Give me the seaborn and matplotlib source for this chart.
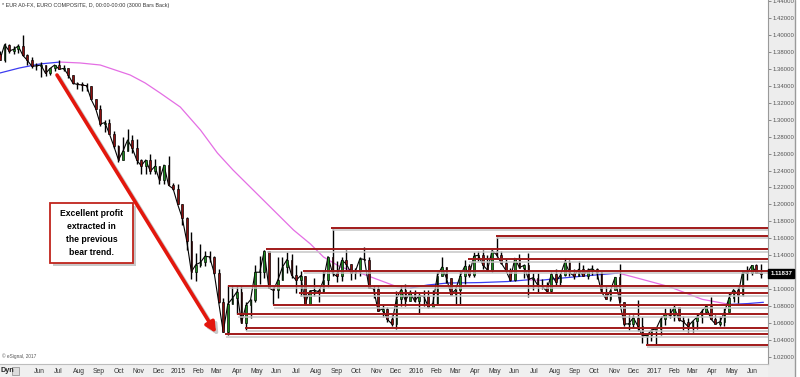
import numpy as np
import pandas as pd
import matplotlib
matplotlib.use("Agg")
import matplotlib.pyplot as plt
import matplotlib.dates as mdates
import matplotlib.transforms as mtransforms
from matplotlib.patches import Rectangle, FancyArrowPatch
import seaborn as sns

# ---------------- data (weekly bars) ----------------
first_week = "2014-04-04"
first_open = 1.3770

high_2014 = [1.3810, 1.3905, 1.3890, 1.3870, 1.3890, 1.3995, 1.3775, 1.3735, 1.3670, 1.3675,
             1.3620, 1.3615, 1.3650, 1.3700, 1.3645, 1.3615, 1.3530, 1.3445, 1.3440, 1.3435,
             1.3390, 1.3245, 1.3170, 1.2995, 1.3010, 1.2870, 1.2705, 1.2790, 1.2885, 1.2815,
             1.2770, 1.2540, 1.2505, 1.2600, 1.2530, 1.2455, 1.2450, 1.2570, 1.2255]
low_2014 = [1.3705, 1.3675, 1.3790, 1.3780, 1.3790, 1.3755, 1.3650, 1.3615, 1.3585, 1.3503,
            1.3520, 1.3525, 1.3575, 1.3595, 1.3575, 1.3490, 1.3425, 1.3365, 1.3335, 1.3335,
            1.3240, 1.3130, 1.2920, 1.2860, 1.2835, 1.2665, 1.2500, 1.2560, 1.2625, 1.2610,
            1.2475, 1.2360, 1.2360, 1.2355, 1.2360, 1.2245, 1.2245, 1.2225, 1.2165]
close_2014 = [1.3705, 1.3885, 1.3810, 1.3830, 1.3870, 1.3760, 1.3700, 1.3630, 1.3635, 1.3645,
              1.3545, 1.3605, 1.3645, 1.3595, 1.3605, 1.3525, 1.3430, 1.3415, 1.3410, 1.3400,
              1.3240, 1.3130, 1.2950, 1.2965, 1.2835, 1.2685, 1.2525, 1.2630, 1.2760, 1.2670,
              1.2525, 1.2455, 1.2525, 1.2390, 1.2450, 1.2285, 1.2465, 1.2225, 1.2185]

high_2015 = [1.2245, 1.2000, 1.1850, 1.1680, 1.1425, 1.1535, 1.1450, 1.1450, 1.1390, 1.1240,
             1.0890, 1.1045, 1.1050, 1.1035, 1.1035, 1.0850, 1.0880, 1.1290, 1.1390, 1.1465,
             1.1445, 1.1030, 1.1380, 1.1385, 1.1435, 1.1410, 1.1280, 1.1210, 1.1130, 1.0985,
             1.1130, 1.1000, 1.1215, 1.1385, 1.1715, 1.1330, 1.1385, 1.1460, 1.1295, 1.1245,
             1.1385, 1.1495, 1.1380, 1.1055, 1.1045, 1.0820, 1.0790, 1.0690, 1.0980, 1.1045,
             1.1060, 1.0990]
low_2015 = [1.2000, 1.1755, 1.1460, 1.1115, 1.1100, 1.1260, 1.1270, 1.1315, 1.1175, 1.0840,
            1.0490, 1.0460, 1.0830, 1.0710, 1.0600, 1.0520, 1.0660, 1.0850, 1.1060, 1.1135,
            1.1050, 1.0820, 1.0890, 1.1130, 1.1190, 1.1135, 1.0955, 1.0915, 1.0810, 1.0810,
            1.0915, 1.0850, 1.0950, 1.1020, 1.1155, 1.1085, 1.1100, 1.1225, 1.1105, 1.1120,
            1.1155, 1.1340, 1.1010, 1.0895, 1.0740, 1.0675, 1.0615, 1.0565, 1.0525, 1.0800,
            1.0805, 1.0855]
close_2015 = [1.2000, 1.1840, 1.1565, 1.1205, 1.1290, 1.1315, 1.1390, 1.1380, 1.1195, 1.0845,
              1.0495, 1.0825, 1.0890, 1.0970, 1.0600, 1.0810, 1.0875, 1.1200, 1.1200, 1.1450,
              1.1015, 1.0985, 1.1110, 1.1260, 1.1350, 1.1165, 1.1105, 1.1160, 1.0830, 1.0980,
              1.0985, 1.0970, 1.1105, 1.1385, 1.1185, 1.1150, 1.1340, 1.1300, 1.1195, 1.1210,
              1.1360, 1.1350, 1.1015, 1.1005, 1.0740, 1.0770, 1.0645, 1.0590, 1.0885, 1.0990,
              1.0865, 1.0965]

high_2016 = [1.0990, 1.0970, 1.0985, 1.0990, 1.0985, 1.1200, 1.1375, 1.1215, 1.1065, 1.1000,
             1.1215, 1.1340, 1.1300, 1.1440, 1.1455, 1.1465, 1.1400, 1.1460, 1.1615, 1.1445,
             1.1360, 1.1245, 1.1370, 1.1415, 1.1300, 1.1425, 1.1185, 1.1185, 1.1120, 1.1085,
             1.1200, 1.1235, 1.1185, 1.1365, 1.1340, 1.1240, 1.1330, 1.1285, 1.1255, 1.1285,
             1.1245, 1.1200, 1.1040, 1.0990, 1.1145, 1.1300, 1.0850, 1.0690, 1.0690, 1.0870,
             1.0670, 1.0475, 1.0500]
low_2016 = [1.0850, 1.0710, 1.0805, 1.0780, 1.0810, 1.0810, 1.1150, 1.1070, 1.0935, 1.0825,
            1.0820, 1.1060, 1.1145, 1.1140, 1.1330, 1.1235, 1.1215, 1.1200, 1.1380, 1.1300,
            1.1200, 1.1100, 1.1100, 1.1290, 1.1130, 1.0910, 1.0990, 1.0950, 1.1000, 1.0950,
            1.0950, 1.1045, 1.1040, 1.1150, 1.1150, 1.1125, 1.1150, 1.1155, 1.1120, 1.1165,
            1.1120, 1.0975, 1.0880, 1.0860, 1.0985, 1.0850, 1.0570, 1.0520, 1.0550, 1.0505,
            1.0365, 1.0352, 1.0390]
close_2016 = [1.0860, 1.0925, 1.0915, 1.0795, 1.0830, 1.1160, 1.1260, 1.1130, 1.0935, 1.0995,
              1.1155, 1.1270, 1.1165, 1.1390, 1.1400, 1.1285, 1.1225, 1.1455, 1.1405, 1.1310,
              1.1225, 1.1105, 1.1365, 1.1255, 1.1280, 1.1115, 1.1135, 1.1050, 1.1035, 1.0975,
              1.1175, 1.1085, 1.1165, 1.1325, 1.1195, 1.1155, 1.1235, 1.1155, 1.1225, 1.1240,
              1.1200, 1.0970, 1.0885, 1.0985, 1.1140, 1.0850, 1.0590, 1.0590, 1.0665, 1.0565,
              1.0450, 1.0455, 1.0520]

high_2017 = [1.0530, 1.0685, 1.0775, 1.0775, 1.0830, 1.0785, 1.0680, 1.0660, 1.0630, 1.0715,
             1.0765, 1.0825, 1.0905, 1.0690, 1.0680, 1.0775, 1.0950, 1.0995, 1.1025, 1.1210,
             1.1270, 1.1285, 1.1295, 1.1295]
low_2017 = [1.0340, 1.0455, 1.0575, 1.0655, 1.0620, 1.0620, 1.0520, 1.0495, 1.0495, 1.0525,
            1.0600, 1.0705, 1.0650, 1.0590, 1.0570, 1.0570, 1.0775, 1.0850, 1.0840, 1.0920,
            1.1110, 1.1165, 1.1195, 1.1130]
close_2017 = [1.0530, 1.0645, 1.0705, 1.0695, 1.0785, 1.0640, 1.0615, 1.0560, 1.0620, 1.0670,
              1.0735, 1.0800, 1.0650, 1.0590, 1.0615, 1.0725, 1.0895, 1.0995, 1.0935, 1.1205,
              1.1185, 1.1280, 1.1195, 1.1184]

# long moving average
ma_dates = ["2014-04-02", "2014-05-02", "2014-06-02", "2014-07-03", "2014-08-03", "2014-09-03",
            "2014-09-26", "2014-10-19", "2014-11-11", "2014-12-04", "2015-01-04", "2015-02-04",
            "2015-03-02", "2015-03-26", "2015-04-26", "2015-05-27", "2015-06-27", "2015-07-23",
            "2015-08-12", "2015-09-07", "2015-10-03", "2015-10-28", "2015-12-04", "2015-12-24",
            "2016-01-19", "2016-02-19", "2016-03-18", "2016-04-10", "2016-05-21", "2016-06-21",
            "2016-07-11", "2016-08-11", "2016-09-22", "2016-11-07", "2016-12-02", "2017-01-24",
            "2017-03-16", "2017-04-27", "2017-05-25", "2017-06-18"]
ma_values = [1.3551, 1.3610, 1.3657, 1.3680, 1.3669, 1.3645, 1.3586, 1.3527, 1.3433, 1.3315,
             1.3149, 1.2878, 1.2607, 1.2406, 1.2170, 1.1934, 1.1698, 1.1533, 1.1380, 1.1262,
             1.1203, 1.1132, 1.1026, 1.1014, 1.1049, 1.1073, 1.1075, 1.1078, 1.1090, 1.1110,
             1.1105, 1.1130, 1.1160, 1.1190, 1.1140, 1.1030, 1.0880, 1.0820, 1.0830, 1.0845]

# support / resistance lines: level and start date
level_prices = [1.1725, 1.1628, 1.1474, 1.1356, 1.1215, 1.1038, 1.0955, 1.0813, 1.0707,
                1.0542, 1.0471, 1.0342]
level_starts = ["2015-08-24", "2016-05-03", "2015-05-15", "2016-03-21", "2015-07-11",
                "2015-03-18", "2015-07-06", "2015-05-27", "2015-04-01", "2015-04-14",
                "2015-03-14", "2016-12-20"]

last_price = 1.11837
y_ticks = [1.02, 1.04, 1.06, 1.08, 1.10, 1.12, 1.14, 1.16, 1.18, 1.20, 1.22, 1.24, 1.26,
           1.28, 1.30, 1.32, 1.34, 1.36, 1.38, 1.40, 1.42, 1.44]
month_names = ["Jan", "Feb", "Mar", "Apr", "May", "Jun", "Jul", "Aug", "Sep", "Oct", "Nov", "Dec"]

title_text = "* EUR A0-FX, EURO COMPOSITE, D, 00:00-00:00 (3000 Bars Back)"
note_text = "Excellent profit\nextracted in\nthe previous\nbear trend."

# ---------------- build ----------------
highs = high_2014 + high_2015 + high_2016 + high_2017
lows = low_2014 + low_2015 + low_2016 + low_2017
closes = close_2014 + close_2015 + close_2016 + close_2017
assert len(highs) == len(lows) == len(closes)
opens = [first_open] + closes[:-1]

weeks = pd.date_range(first_week, periods=len(closes), freq="W-FRI")
xc = mdates.date2num(weeks) - 2.0

sns.set_style("white")
plt.rcParams["font.family"] = ["Liberation Sans", "DejaVu Sans"]

W, H = 800, 377
fig = plt.figure(figsize=(8.0, 3.77), dpi=100)
fig.patch.set_facecolor("white")

def fx(px):
    return px / W

def fy(py):
    return 1 - py / H

# background panels (right price scale and bottom date strip)
fig.add_artist(Rectangle((fx(768), 0), fx(27), 1, transform=fig.transFigure,
                         facecolor="#ededed", edgecolor="none", zorder=-5))
fig.add_artist(Rectangle((0, 0), fx(768), 13 / H, transform=fig.transFigure,
                         facecolor="#f0f0f0", edgecolor="none", zorder=-5))
fig.add_artist(plt.Line2D([fx(795), fx(795)], [0, 1], transform=fig.transFigure,
                          color="#9a9a9a", lw=1.0, zorder=-4))

ax = fig.add_axes([0, 13 / H, 768 / W, 364 / H])
ax.set_facecolor("white")

x_left = mdates.date2num(pd.Timestamp("2014-04-02"))
x_right = mdates.date2num(pd.Timestamp("2017-06-25"))

# moving average coloured by direction
ma_x = mdates.date2num(pd.to_datetime(ma_dates))
ma_v = np.array(ma_values)
dirs = np.sign(np.diff(ma_v))
start = 0
for i in range(1, len(dirs) + 1):
    if i == len(dirs) or dirs[i] != dirs[start]:
        seg = pd.DataFrame({"x": ma_x[start:i + 1], "y": ma_v[start:i + 1]})
        col = "#3c3cf0" if dirs[start] > 0 else "#e46ee4"
        sns.lineplot(data=seg, x="x", y="y", ax=ax, color=col, lw=0.9, sort=False,
                     estimator=None, zorder=2)
        start = i

# price bars: wicks, bodies and a close line for a dense daily-chart look
o = np.array(opens); c = np.array(closes)
hi = np.maximum(np.array(highs), np.maximum(o, c))
lo = np.minimum(np.array(lows), np.minimum(o, c))
ax.vlines(xc, lo, hi, color="black", lw=1.0, zorder=3)
sns.lineplot(x=xc, y=c, ax=ax, color="black", lw=0.8, sort=False, estimator=None, zorder=3)
body_bottom = np.minimum(o, c)
body_h = np.maximum(np.abs(c - o), 0.0006)
body_col = np.where(c >= o, "#1e8c1e", "#8c0f0f")
ax.bar(xc, body_h, bottom=body_bottom, width=2.6, color=body_col, edgecolor="black",
       linewidth=0.45, zorder=4)

# horizontal levels with light shadow
for lvl, st in zip(level_prices, level_starts):
    xs = mdates.date2num(pd.Timestamp(st))
    ax.hlines(lvl - 0.0030, xs + 1.5, x_right, color="#c6c6c6", lw=1.1, zorder=5)
    ax.hlines(lvl, xs, x_right, color="#a11a1a", lw=1.4, zorder=6)

ax.set_xlim(x_left, x_right)
ax.set_ylim(1.0117, 1.4412)
ax.set_xlabel("")
ax.set_ylabel("")

# x ticks: month starts
months = pd.date_range("2014-06-01", "2017-06-01", freq="MS")
ax.set_xticks(mdates.date2num(months))
ax.set_xticklabels([str(m.year) if m.month == 1 else month_names[m.month - 1] for m in months])
ax.tick_params(axis="x", length=0, pad=3.2, labelsize=4.9, labelcolor="#333333")

# y ticks on the right (the label under the last-price marker is covered in the reference)
ax.yaxis.tick_right()
ax.set_yticks(y_ticks)
ax.set_yticklabels(["" if abs(v - last_price) < 0.005 else f"{v:.5f}" for v in y_ticks])
ax.tick_params(axis="y", length=2, width=0.6, color="#777777", pad=1.2, labelsize=4.3,
               labelcolor="#555555")

for s in ["top", "left"]:
    ax.spines[s].set_visible(False)
ax.spines["right"].set_color("#9a9a9a")
ax.spines["right"].set_linewidth(0.8)
ax.spines["bottom"].set_color("#bdbdbd")
ax.spines["bottom"].set_linewidth(0.8)

# last price marker
trans = mtransforms.blended_transform_factory(ax.transAxes, ax.transData)
ax.text(1.003, last_price, "1.11837", transform=trans, ha="left", va="center",
        fontsize=4.4, color="white", fontweight="bold", clip_on=False, zorder=10,
        bbox=dict(boxstyle="square,pad=0.35", facecolor="black", edgecolor="black"))

# header / footer texts
fig.text(fx(2), fy(5), title_text, fontsize=3.9, color="#333333", ha="left", va="center")
fig.text(fx(2), fy(356), "\u00a9 eSignal, 2017", fontsize=3.4, color="#555555",
         ha="left", va="center")
fig.text(fx(0.5), fy(371), "Dyn", fontsize=5.2, color="#222222", fontweight="bold",
         ha="left", va="center")
fig.add_artist(Rectangle((fx(12), fy(375)), fx(7), 8 / H, transform=fig.transFigure,
                         facecolor="#dcdcdc", edgecolor="#888888", lw=0.5, zorder=2))

# red arrow with shadow
for dx, dy, col, z in [(2.5, 2.5, "#c8c8c8", 7), (0, 0, "#e3170d", 8)]:
    arr = FancyArrowPatch((fx(57 + dx), fy(75 + dy)), (fx(216 + dx), fy(333 + dy)),
                          transform=fig.transFigure, arrowstyle="-|>", mutation_scale=15,
                          lw=2.6, color=col, zorder=z, shrinkA=0, shrinkB=0)
    fig.add_artist(arr)

# annotation box with shadow
fig.add_artist(Rectangle((fx(53), fy(266)), fx(83), 60 / H, transform=fig.transFigure,
                         facecolor="#c8c8c8", edgecolor="none", zorder=8))
fig.add_artist(Rectangle((fx(50), fy(263)), fx(83), 60 / H, transform=fig.transFigure,
                         facecolor="white", edgecolor="#c0241c", lw=1.3, zorder=9))
fig.text(fx(91.5), fy(233), note_text, fontsize=6.2, fontweight="bold", color="black",
         ha="center", va="center", linespacing=1.55, zorder=10)

fig.savefig("out.png", dpi=100, facecolor="white")
